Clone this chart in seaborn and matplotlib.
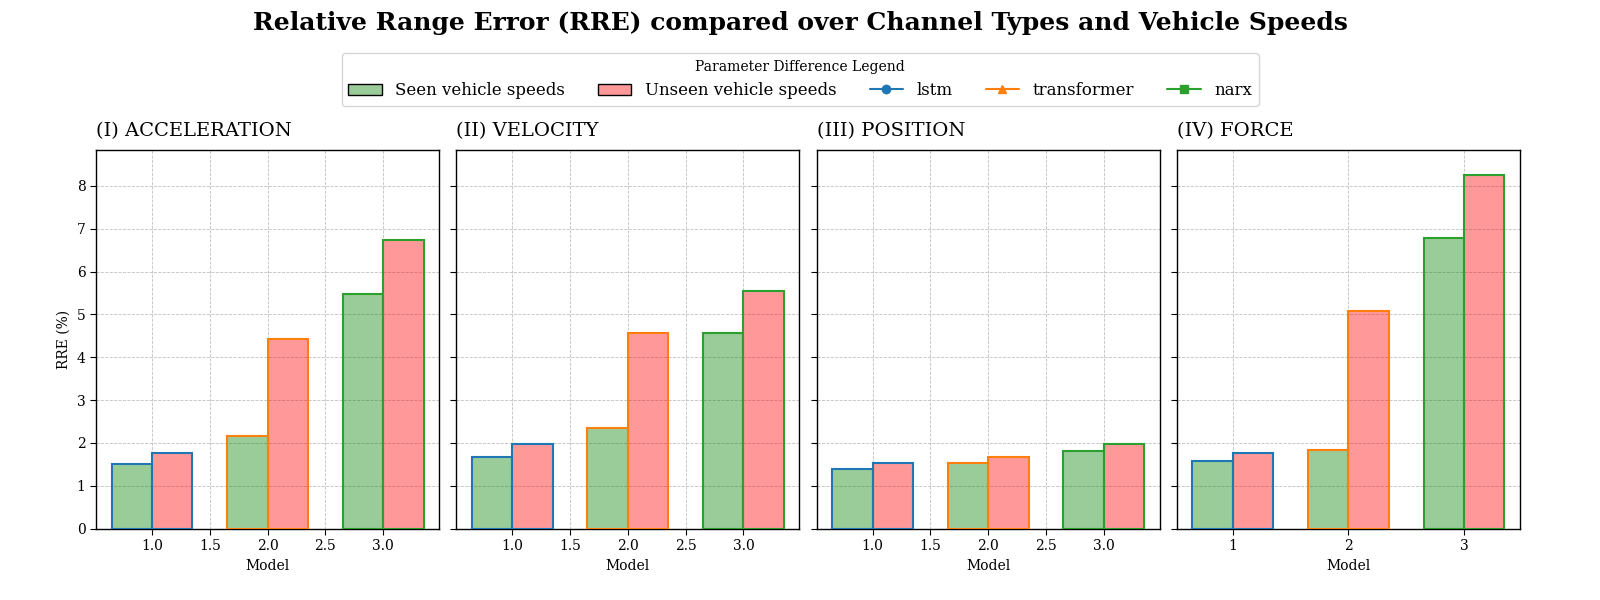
import numpy as np
import matplotlib
matplotlib.use("Agg")
import matplotlib.pyplot as plt
import seaborn as sns
from matplotlib.patches import Patch
from matplotlib.lines import Line2D

# data
channels = ["(I) ACCELERATION", "(II) VELOCITY", "(III) POSITION", "(IV) FORCE"]
models = ["lstm", "transformer", "narx"]
model_pos = [1.0, 2.0, 3.0]
model_colors = ["#1f77b4", "#ff7f0e", "#2ca02c"]
model_markers = ["o", "^", "s"]

seen_acc = [1.52, 2.16, 5.48]
unseen_acc = [1.76, 4.42, 6.75]
seen_vel = [1.67, 2.36, 4.57]
unseen_vel = [1.97, 4.57, 5.55]
seen_pos = [1.40, 1.54, 1.82]
unseen_pos = [1.54, 1.68, 1.98]
seen_force = [1.59, 1.84, 6.79]
unseen_force = [1.77, 5.08, 8.25]

seen_all = [seen_acc, seen_vel, seen_pos, seen_force]
unseen_all = [unseen_acc, unseen_vel, unseen_pos, unseen_force]

bar_w = 0.35

sns.set_style("white")
plt.rcParams["font.family"] = ["DejaVu Serif"]
plt.rcParams["text.color"] = "black"
plt.rcParams["axes.labelcolor"] = "black"
plt.rcParams["xtick.color"] = "black"
plt.rcParams["ytick.color"] = "black"

fig, axes = plt.subplots(1, 4, figsize=(16, 6), dpi=100, sharey=True)
fig.subplots_adjust(left=0.06, right=0.95, top=0.75, bottom=0.119, wspace=0.05)

seen_face = matplotlib.colors.to_rgba("green", 0.4)
unseen_face = matplotlib.colors.to_rgba("red", 0.4)

for i, ax in enumerate(axes):
    pos = np.array(model_pos)
    seen = seen_all[i]
    unseen = unseen_all[i]
    # seaborn bars on a numeric axis
    sns.barplot(x=pos - bar_w / 2, y=seen, native_scale=True, width=bar_w,
                color=seen_face, ax=ax, linewidth=1.5, zorder=3)
    n0 = len(ax.patches)
    sns.barplot(x=pos + bar_w / 2, y=unseen, native_scale=True, width=bar_w,
                color=unseen_face, ax=ax, linewidth=1.5, zorder=3)
    patches = ax.patches
    for j, p in enumerate(patches[:n0]):
        p.set_facecolor(seen_face)
        p.set_edgecolor(model_colors[j])
        p.set_linewidth(1.5)
    for j, p in enumerate(patches[n0:]):
        p.set_facecolor(unseen_face)
        p.set_edgecolor(model_colors[j])
        p.set_linewidth(1.5)

    ax.set_xlim(0.515, 3.485)
    ax.set_ylim(0, 8.84)
    ax.set_yticks(range(0, 9))
    if i == 3:
        ax.set_xticks([1, 2, 3])
        ax.set_xticklabels(["1", "2", "3"])
    else:
        ax.set_xticks([1.0, 1.5, 2.0, 2.5, 3.0])
        ax.set_xticklabels(["1.0", "1.5", "2.0", "2.5", "3.0"])
    ax.grid(True, linestyle="--", color="#b0b0b0", linewidth=0.6, alpha=0.8)
    ax.set_axisbelow(True)
    ax.set_xlabel("Model", fontsize=10)
    ax.set_ylabel("RRE (%)" if i == 0 else "", fontsize=10)
    ax.set_title(channels[i], loc="left", fontsize=14, pad=10)
    ax.tick_params(axis="both", which="both", length=4, direction="out",
                   left=True, bottom=True, labelsize=10)
    for s in ax.spines.values():
        s.set_color("black")
        s.set_linewidth(1.0)

handles = [
    Patch(facecolor=seen_face, edgecolor="black", label="Seen vehicle speeds"),
    Patch(facecolor=unseen_face, edgecolor="black", label="Unseen vehicle speeds"),
]
for m, c, mk in zip(models, model_colors, model_markers):
    handles.append(Line2D([0], [0], color=c, marker=mk, label=m))

fig.legend(handles=handles, loc="upper center", bbox_to_anchor=(0.5, 0.925),
           ncol=5, fontsize=12, title="Parameter Difference Legend",
           title_fontsize=10, frameon=True)

fig.suptitle("Relative Range Error (RRE) compared over Channel Types and Vehicle Speeds",
             fontsize=18, fontweight="bold", y=0.981)

fig.savefig("out.png", dpi=100)
